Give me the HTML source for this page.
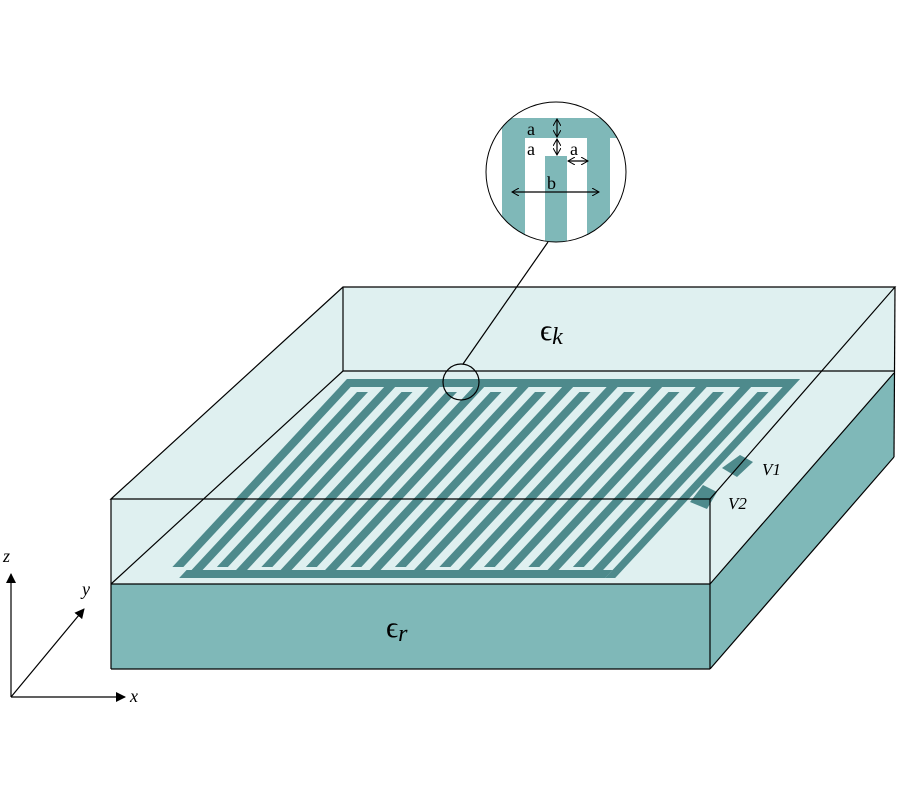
<!DOCTYPE html>
<html><head><meta charset="utf-8"><style>
html,body{margin:0;padding:0;background:#fff}
svg{display:block}
text{font-family:"Liberation Serif",serif}
</style></head><body>
<svg width="900" height="800" viewBox="0 0 900 800" xmlns="http://www.w3.org/2000/svg">
<defs>
<clipPath id="cc"><circle cx="556" cy="172" r="70"/></clipPath>
<marker id="ah" markerWidth="10" markerHeight="10" refX="9" refY="5" orient="auto" markerUnits="userSpaceOnUse"><path d="M0,0 L10,5 L0,10 z" fill="#000"/></marker>
<marker id="sa" markerWidth="8" markerHeight="8" refX="7" refY="4" orient="auto-start-reverse" markerUnits="userSpaceOnUse"><path d="M0,0 L7,4 L0,8" fill="none" stroke="#000" stroke-width="1"/></marker>
</defs>
<!-- cover -->
<polygon points="111,499 343,287 895,287 710,499" fill="#dff0f0"/>
<polygon points="710,499 895,287 895,373 710,584" fill="#dff0f0"/>
<rect x="111" y="499" width="599" height="85" fill="#dff0f0"/>
<!-- substrate -->
<rect x="111" y="584" width="599" height="85" fill="#7fb8b8"/>
<polygon points="710,584 894,373 894,457 710,669" fill="#7fb8b8"/>
<!-- pattern -->
<g fill="#4e8a8c" transform="translate(355,378) skewX(-42.9)">
<rect x="-7" y="1" width="452" height="8"/>
<rect x="10" y="192" width="426" height="8"/>
<rect x="-7" y="1" width="11" height="188"/>
<rect x="37.5" y="1" width="11" height="188"/>
<rect x="82" y="1" width="11" height="188"/>
<rect x="126.5" y="1" width="11" height="188"/>
<rect x="171" y="1" width="11" height="188"/>
<rect x="215.5" y="1" width="11" height="188"/>
<rect x="260" y="1" width="11" height="188"/>
<rect x="304.5" y="1" width="11" height="188"/>
<rect x="349" y="1" width="11" height="188"/>
<rect x="393.5" y="1" width="11" height="188"/>
<rect x="436" y="1" width="10" height="199"/>
<rect x="15" y="14" width="11" height="180"/>
<rect x="59.5" y="14" width="11" height="180"/>
<rect x="104" y="14" width="11" height="180"/>
<rect x="148.5" y="14" width="11" height="180"/>
<rect x="193" y="14" width="11" height="180"/>
<rect x="237.5" y="14" width="11" height="180"/>
<rect x="282" y="14" width="11" height="180"/>
<rect x="326.5" y="14" width="11" height="180"/>
<rect x="371" y="14" width="11" height="180"/>
<rect x="415.5" y="14" width="11" height="180"/>
</g>
<polygon points="722,468 740,455 753,462 737,477" fill="#4e8a8c"/>
<polygon points="690,502 703,485 717,492 707,509" fill="#4e8a8c"/>
<!-- edges -->
<g fill="none" stroke="#000" stroke-width="1.2">
<polygon points="111,499 343,287 895,287 710,499"/>
<line x1="710" y1="499" x2="710" y2="669"/>
<line x1="895" y1="287" x2="894" y2="457"/>
<line x1="111" y1="499" x2="111" y2="669"/>
<line x1="111" y1="669" x2="710" y2="669"/>
<line x1="710" y1="669" x2="894" y2="457"/>
<line x1="111" y1="584" x2="710" y2="584"/>
<line x1="710" y1="584" x2="894" y2="373"/>
<line x1="343" y1="287" x2="343" y2="371"/>
<line x1="343" y1="371" x2="894" y2="371"/>
<line x1="343" y1="371" x2="111" y2="584"/>
<circle cx="461" cy="382" r="18"/>
<line x1="463" y1="364" x2="548" y2="242"/>
</g>
<!-- inset -->
<g clip-path="url(#cc)">
<rect x="486" y="100" width="142" height="145" fill="#fff"/>
<g fill="#7fb8b8">
<rect x="502" y="118" width="116" height="20"/>
<rect x="502" y="118" width="23" height="130"/>
<rect x="545" y="156" width="22" height="90"/>
<rect x="587" y="118" width="23" height="130"/>
</g>
</g>
<circle cx="556" cy="172" r="70" fill="none" stroke="#000" stroke-width="1"/>
<g stroke="#000" stroke-width="1.2" fill="none">
<line x1="557" y1="119" x2="557" y2="137" marker-start="url(#sa)" marker-end="url(#sa)"/>
<line x1="557" y1="139" x2="557" y2="155" marker-start="url(#sa)" marker-end="url(#sa)"/>
<line x1="568" y1="161" x2="588" y2="161" marker-start="url(#sa)" marker-end="url(#sa)"/>
<line x1="512" y1="192" x2="599" y2="192" marker-start="url(#sa)" marker-end="url(#sa)"/>
</g>
<g font-size="18" fill="#000">
<text x="527" y="135">a</text>
<text x="527" y="155">a</text>
<text x="570" y="155">a</text>
<text x="547" y="189">b</text>
</g>
<!-- labels -->
<text x="540" y="340" font-size="30">ϵ<tspan font-style="italic" font-size="24" dy="4">k</tspan></text>
<text x="386" y="637" font-size="30">ϵ<tspan font-style="italic" font-size="24" dy="4">r</tspan></text>
<text x="762" y="475" font-size="17" font-style="italic">V1</text>
<text x="728" y="509" font-size="17" font-style="italic">V2</text>
<!-- axes -->
<g stroke="#000" stroke-width="1.2">
<line x1="11" y1="697" x2="11" y2="574" marker-end="url(#ah)"/>
<line x1="11" y1="697" x2="125" y2="697" marker-end="url(#ah)"/>
<line x1="11" y1="697" x2="84" y2="609" marker-end="url(#ah)"/>
</g>
<text x="3" y="562" font-size="18" font-style="italic">z</text>
<text x="130" y="702" font-size="18" font-style="italic">x</text>
<text x="82" y="595" font-size="18" font-style="italic">y</text>
</svg>
</body></html>
